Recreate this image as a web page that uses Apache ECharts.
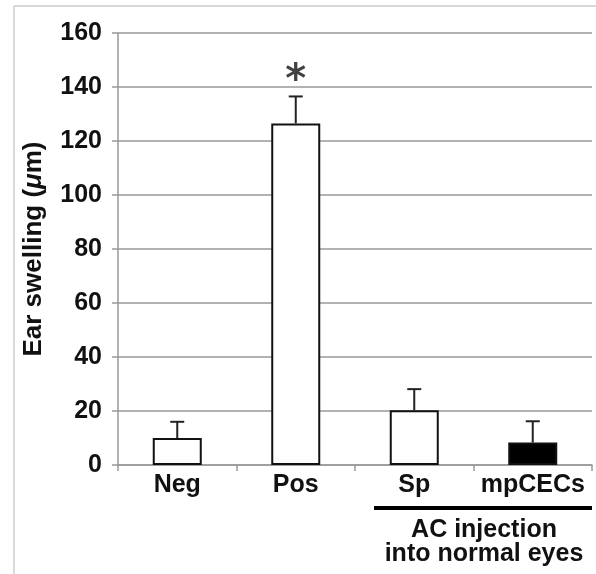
<!DOCTYPE html>
<html>
<head>
<meta charset="utf-8">
<script src="https://cdn.jsdelivr.net/npm/echarts@6/dist/echarts.min.js"></script>
<style>
  html, body { margin: 0; padding: 0; background: #fff; }
  #chart-container { width: 596px; height: 574px; }
</style>
</head>
<body>
<div id="chart-container"></div>
<script>
var categories = ['Neg', 'Pos', 'Sp', 'mpCECs'];
var means = [10, 126.5, 20.3, 8.3];
var errors = [6, 10, 7.8, 7.9];
var barColors = ['#fff', '#fff', '#fff', '#000'];
var yTicks = [0, 20, 40, 60, 80, 100, 120, 140, 160];
var starValue = 145;

var dom = document.getElementById('chart-container');
var myChart = echarts.init(dom);

var font = '"Liberation Sans", Arial, sans-serif';

var option = {
  animation: false,
  grid: { left: 118, right: 4, top: 33, bottom: 109 },
  xAxis: {
    type: 'category',
    data: categories,
    axisLine: { lineStyle: { color: '#999', width: 1.5 } },
    axisTick: { show: true, interval: 0, length: 6, lineStyle: { color: '#999', width: 1.5 } },
    axisLabel: { interval: 0, color: '#111', fontFamily: font, fontWeight: 'bold', fontSize: 25, margin: 8 }
  },
  yAxis: {
    type: 'value',
    min: yTicks[0],
    max: yTicks[yTicks.length - 1],
    interval: 20,
    name: 'Ear swelling ({i|μ}m)',
    nameLocation: 'middle',
    nameGap: 71,
    nameTextStyle: {
      color: '#111', fontFamily: font, fontWeight: 'bold', fontSize: 26,
      rich: { i: { fontStyle: 'italic', fontFamily: font, fontWeight: 'bold', fontSize: 26, color: '#111' } }
    },
    axisLine: { show: true, lineStyle: { color: '#999', width: 1.5 } },
    axisTick: { show: true, length: 6, lineStyle: { color: '#999', width: 1.5 } },
    splitLine: { lineStyle: { color: '#999', width: 1.5 } },
    axisLabel: { color: '#111', fontFamily: font, fontWeight: 'bold', fontSize: 25, margin: 16 }
  },
  series: [
    {
      type: 'bar',
      barWidth: 49,
      data: means.map(function (v, i) {
        return { value: v, itemStyle: { color: barColors[i] } };
      }),
      itemStyle: { borderColor: '#111', borderWidth: 2 },
      z: 2
    },
    {
      type: 'custom',
      z: 3,
      data: means.map(function (v, i) { return [i, v, v + errors[i]]; }),
      renderItem: function (params, api) {
        var base = api.coord([api.value(0), api.value(1)]);
        var top = api.coord([api.value(0), api.value(2)]);
        var half = 7;
        var style = { stroke: '#222', lineWidth: 2 };
        return {
          type: 'group',
          children: [
            { type: 'line', shape: { x1: base[0], y1: base[1], x2: top[0], y2: top[1] }, style: style },
            { type: 'line', shape: { x1: top[0] - half, y1: top[1], x2: top[0] + half, y2: top[1] }, style: style }
          ]
        };
      }
    },
    {
      type: 'scatter',
      symbolSize: 0,
      data: [[categories[1], starValue]],
      label: {
        show: true,
        position: 'inside',
        formatter: '*',
        color: '#111',
        fontFamily: '"DejaVu Sans", sans-serif',
        fontWeight: 'bold',
        fontSize: 40,
        offset: [0, 8]
      },
      z: 4
    }
  ],
  graphic: [
    { type: 'line', shape: { x1: 14, y1: 6, x2: 596, y2: 6 }, style: { stroke: '#ccc', lineWidth: 1.5 } },
    { type: 'line', shape: { x1: 14, y1: 6, x2: 14, y2: 574 }, style: { stroke: '#ccc', lineWidth: 1.5 } },
    { type: 'rect', shape: { x: 374, y: 506, width: 218, height: 4 }, style: { fill: '#000' } },
    {
      type: 'text', x: 484, y: 518,
      style: {
        text: 'AC injection\ninto normal eyes',
        align: 'center',
        fill: '#111',
        font: 'bold 25px ' + font,
        lineHeight: 24
      }
    }
  ]
};

myChart.setOption(option);
</script>
</body>
</html>
